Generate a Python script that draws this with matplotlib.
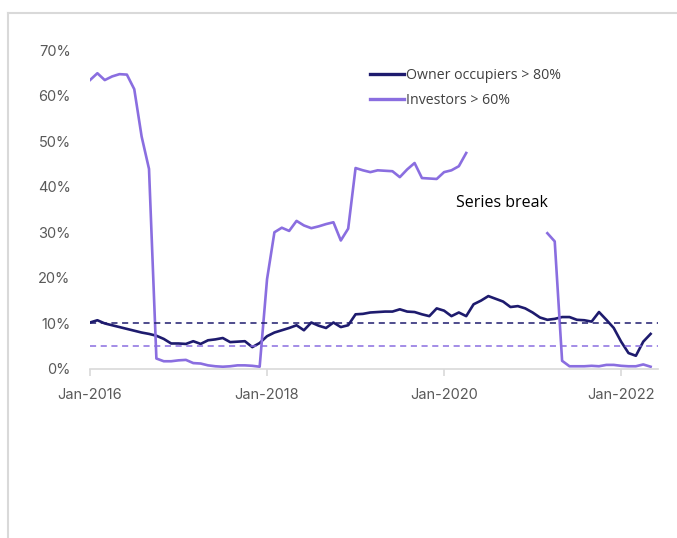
import numpy as np
import matplotlib
matplotlib.use("Agg")
import matplotlib.pyplot as plt
from matplotlib.lines import Line2D

# monthly, Jan-2016 .. May-2022 (% of new lending)
owner_occupiers = [
    10.2, 10.7, 10.0, 9.6, 9.2, 8.8, 8.4, 8.0, 7.7, 7.3, 6.6, 5.6,
    5.6, 5.5, 6.1, 5.5, 6.3, 6.5, 6.8, 5.9, 6.0, 6.1, 4.8, 5.7,
    7.2, 8.0, 8.5, 9.0, 9.6, 8.5, 10.2, 9.5, 9.0, 10.2, 9.2, 9.6,
    12.0, 12.1, 12.4, 12.5, 12.6, 12.6, 13.1, 12.6, 12.5, 12.0, 11.6, 13.3,
    12.8, 11.6, 12.4, 11.6, 14.2, 15.0, 16.0, 15.4, 14.8, 13.6, 13.8, 13.3,
    12.4, 11.3, 10.8, 11.0, 11.4, 11.4, 10.8, 10.7, 10.4, 12.5, 10.8, 9.0,
    6.0, 3.5, 2.9, 6.0, 7.7,
]
nan = np.nan
investors = [
    63.4, 64.9, 63.4, 64.2, 64.7, 64.6, 61.4, 51.0, 43.9, 2.3, 1.7, 1.7,
    1.9, 2.0, 1.3, 1.2, 0.8, 0.6, 0.5, 0.6, 0.8, 0.8, 0.7, 0.5,
    19.7, 30.0, 31.0, 30.3, 32.5, 31.5, 30.9, 31.3, 31.8, 32.2, 28.2, 30.8,
    44.1, 43.6, 43.2, 43.6, 43.5, 43.4, 42.1, 43.8, 45.2, 41.9, 41.8, 41.7,
    43.2, 43.6, 44.5, 47.4, nan, nan, nan, nan, nan, nan, nan, nan,
    nan, nan, 29.8, 28.0, 1.8, 0.6, 0.6, 0.6, 0.7, 0.6, 0.9, 0.9,
    0.7, 0.6, 0.6, 1.0, 0.5,
]
owner_limit = 10
investor_limit = 5
tick_months = [0, 24, 48, 72]
tick_labels = ["Jan-2016", "Jan-2018", "Jan-2020", "Jan-2022"]
y_ticks = [0, 10, 20, 30, 40, 50, 60, 70]

navy = "#1e1b6e"
purple = "#8a6ee0"
grey_txt = "#595959"

fig = plt.figure(figsize=(6.77, 5.38), dpi=100)
ax = fig.add_axes([90 / 677, 1 - 369 / 538, 568 / 677, 319 / 538])

months = np.arange(len(owner_occupiers))
ax.plot(months, owner_occupiers, color=navy, lw=1.9, label="Owner occupiers > 80%")
ax.plot(months, investors, color=purple, lw=1.9, label="Investors > 60%")
ax.axhline(owner_limit, color=navy, lw=1.1, dashes=(4, 3))
ax.axhline(investor_limit, color=purple, lw=1.1, dashes=(4, 3))

ax.set_xlim(0, 77)
ax.set_ylim(0, 70)
ax.set_xticks(tick_months)
ax.set_xticklabels(tick_labels)
ax.set_yticks(y_ticks)
ax.set_yticklabels([f"{v}%" for v in y_ticks])

for s in ["top", "right", "left"]:
    ax.spines[s].set_visible(False)
ax.spines["bottom"].set_color("#d9d9d9")
ax.spines["bottom"].set_linewidth(1.2)
ax.tick_params(axis="x", colors="#d9d9d9", length=5, width=1.2, pad=9,
               labelcolor=grey_txt, labelsize=10.5)
ax.tick_params(axis="y", length=0, pad=14, labelcolor=grey_txt, labelsize=10.5)
for lbl in ax.get_xticklabels() + ax.get_yticklabels():
    lbl.set_family("Inter")

leg = ax.legend(loc="upper left", bbox_to_anchor=(0.47, 0.985), frameon=False,
                handlelength=2.4, handletextpad=0.15, labelspacing=0.75,
                prop={"family": "Open Sans", "size": 10.2})
for t in leg.get_texts():
    t.set_color("#404040")
for h in leg.get_lines():
    h.set_linewidth(2.4)

ax.text(0.645, 0.52, "Series break", transform=ax.transAxes, fontsize=11.5,
        family="Open Sans", color="black", ha="left", va="center")

# outer frame of the slide panel
fig.add_artist(Line2D([8 / 677, 8 / 677], [0, 1 - 13 / 538], color="#d9d9d9", lw=1.5))
fig.add_artist(Line2D([8 / 677, 1], [1 - 13 / 538, 1 - 13 / 538], color="#d9d9d9", lw=1.5))

fig.savefig("out.png", dpi=100)
